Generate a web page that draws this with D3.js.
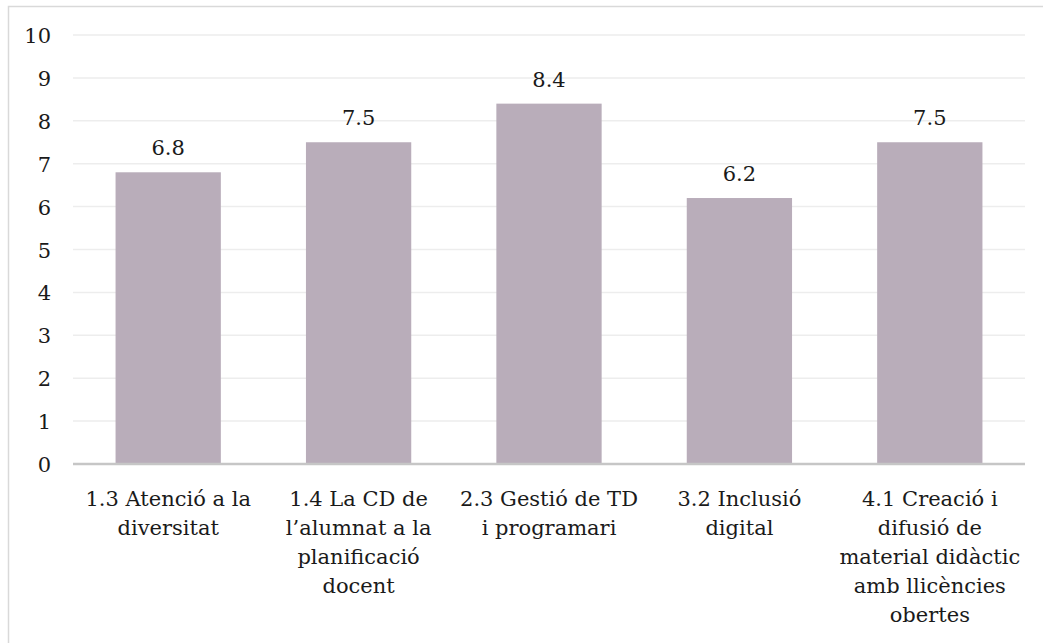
<!DOCTYPE html>
<html>
<head>
<meta charset="utf-8">
<script src="https://cdn.jsdelivr.net/npm/d3@7"></script>
<style>
  html, body { margin: 0; padding: 0; background: #fff; }
  svg { display: block; }
  text { font-family: "DejaVu Serif", "Liberation Serif", serif; fill: #1a1a1a; }
</style>
</head>
<body>
<svg id="chart" width="1043" height="643"></svg>
<script>
// Competència digital: puntuació mitjana per indicador
const categories = [
  "1.3 Atenció a la\ndiversitat",
  "1.4 La CD de\nl’alumnat a la\nplanificació\ndocent",
  "2.3 Gestió de TD\ni programari",
  "3.2 Inclusió\ndigital",
  "4.1 Creació i\ndifusió de\nmaterial didàctic\namb llicències\nobertes"
];
const values = [6.8, 7.5, 8.4, 6.2, 7.5];
const yTicks = [0, 1, 2, 3, 4, 5, 6, 7, 8, 9, 10];

const W = 1043, H = 643;
const margin = { left: 73, right: 1025, top: 35, bottom: 464 };
const fontSize = 21;

const svg = d3.select("#chart");

// outer frame
svg.append("rect")
  .attr("x", 8.5).attr("y", 6.5)
  .attr("width", W + 10).attr("height", H + 10)
  .attr("fill", "none").attr("stroke", "#d9d9d9").attr("stroke-width", 1.5);

const x = d3.scaleBand()
  .domain(d3.range(categories.length))
  .range([margin.left, margin.right])
  .paddingInner(0.447).paddingOuter(0.2235);

const y = d3.scaleLinear().domain([0, 10]).range([margin.bottom, margin.top]);

// horizontal gridlines
svg.append("g")
  .selectAll("line")
  .data(yTicks.filter(d => d > 0))
  .join("line")
  .attr("x1", margin.left).attr("x2", margin.right)
  .attr("y1", d => y(d)).attr("y2", d => y(d))
  .attr("stroke", "#ededed").attr("stroke-width", 1.5);

// y axis labels
const yAxis = d3.axisLeft(y).tickValues(yTicks).tickSize(0).tickPadding(0).tickFormat(d3.format("d"));
const gy = svg.append("g").attr("transform", `translate(51,0)`).call(yAxis);
gy.select(".domain").remove();
gy.selectAll("text")
  .attr("font-size", fontSize)
  .attr("font-family", "DejaVu Serif, Liberation Serif, serif")
  .attr("fill", "#1a1a1a")
  .attr("dy", "0.36em");

// bars
svg.append("g")
  .selectAll("rect")
  .data(values)
  .join("rect")
  .attr("x", (d, i) => x(i))
  .attr("width", x.bandwidth())
  .attr("y", d => y(d))
  .attr("height", d => y(0) - y(d))
  .attr("fill", "#b9adba");

// value labels
svg.append("g")
  .selectAll("text")
  .data(values)
  .join("text")
  .attr("x", (d, i) => x(i) + x.bandwidth() / 2)
  .attr("y", d => y(d) - 17)
  .attr("text-anchor", "middle")
  .attr("font-size", fontSize)
  .text(d => d3.format(".1f")(d));

// baseline axis
svg.append("line")
  .attr("x1", margin.left).attr("x2", margin.right)
  .attr("y1", y(0)).attr("y2", y(0))
  .attr("stroke", "#c6c6c6").attr("stroke-width", 2.5);

// category labels
const lineH = 29;
const cat = svg.append("g")
  .selectAll("text")
  .data(categories)
  .join("text")
  .attr("text-anchor", "middle")
  .attr("font-size", fontSize)
  .attr("transform", (d, i) => `translate(${x(i) + x.bandwidth() / 2},${y(0) + 42})`);
cat.selectAll("tspan")
  .data(d => d.split("\n"))
  .join("tspan")
  .attr("x", 0)
  .attr("y", (d, i) => i * lineH)
  .text(d => d);
</script>
</body>
</html>
